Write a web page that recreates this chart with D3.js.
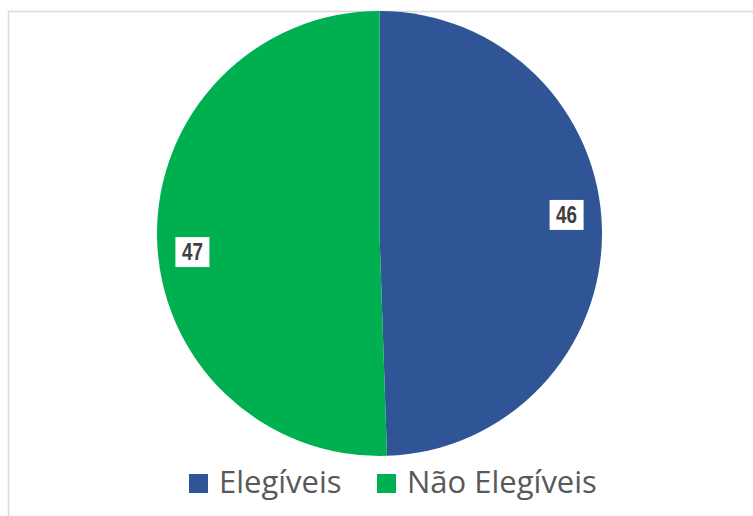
<!DOCTYPE html>
<html><head><meta charset="utf-8">
<script src="https://cdn.jsdelivr.net/npm/d3@7"></script>
<style>html,body{margin:0;padding:0;background:#fff;}svg{display:block;}</style>
</head><body>
<svg id="c" width="753" height="516"></svg>
<script>
const categories = ["Elegíveis", "Não Elegíveis"];
const values = [46, 47];
const colors = ["#2F5597", "#00B050"];

const svg = d3.select("#c");
const W = 753, H = 516;

// chart area border (top + left visible)
svg.append("path")
  .attr("d", `M8.5,${H} L8.5,11.5 L${W},11.5`)
  .attr("fill", "none").attr("stroke", "#d9d9d9").attr("stroke-width", 1.5);

const cx = 379.5, cy = 233.5, R = 222.5;
const g = svg.append("g").attr("transform", `translate(${cx},${cy})`);

const data = categories.map((c, i) => ({cat: c, value: values[i], color: colors[i]}));
const pie = d3.pie().value(d => d.value).sort(null);
const arcs = pie(data);
const arc = d3.arc().innerRadius(0).outerRadius(R);

g.selectAll("path.slice").data(arcs).enter().append("path")
  .attr("class", "slice")
  .attr("d", arc)
  .attr("fill", d => d.data.color);

// data labels
const lr = R * 0.845, shift = -4.7 * Math.PI / 180;
const lab = g.selectAll("g.lab").data(arcs).enter().append("g").attr("class", "lab")
  .attr("transform", d => {
    const a = (d.startAngle + d.endAngle) / 2 + shift;
    return `translate(${Math.sin(a) * lr},${-Math.cos(a) * lr})`;
  });
lab.append("rect").attr("x", -17).attr("y", -15).attr("width", 34).attr("height", 30).attr("fill", "#fff");
lab.append("text")
  .attr("text-anchor", "middle").attr("dy", "0.36em")
  .attr("font-family", "Liberation Sans, Arial, sans-serif").attr("font-weight", "bold")
  .attr("font-size", 23).attr("fill", "#404040")
  .attr("textLength", 21).attr("lengthAdjust", "spacingAndGlyphs")
  .text(d => d.data.value);

// legend
const legendX = [189, 377];
const leg = svg.selectAll("g.leg").data(data).enter().append("g").attr("class", "leg")
  .attr("transform", (d, i) => `translate(${legendX[i]},474)`);
leg.append("rect").attr("width", 19).attr("height", 19).attr("fill", d => d.color);
leg.append("text")
  .attr("x", 30).attr("y", 19)
  .attr("font-family", "Open Sans, sans-serif").attr("font-size", 31)
  .attr("fill", "#595959")
  .text(d => d.cat);
</script>
</body></html>
